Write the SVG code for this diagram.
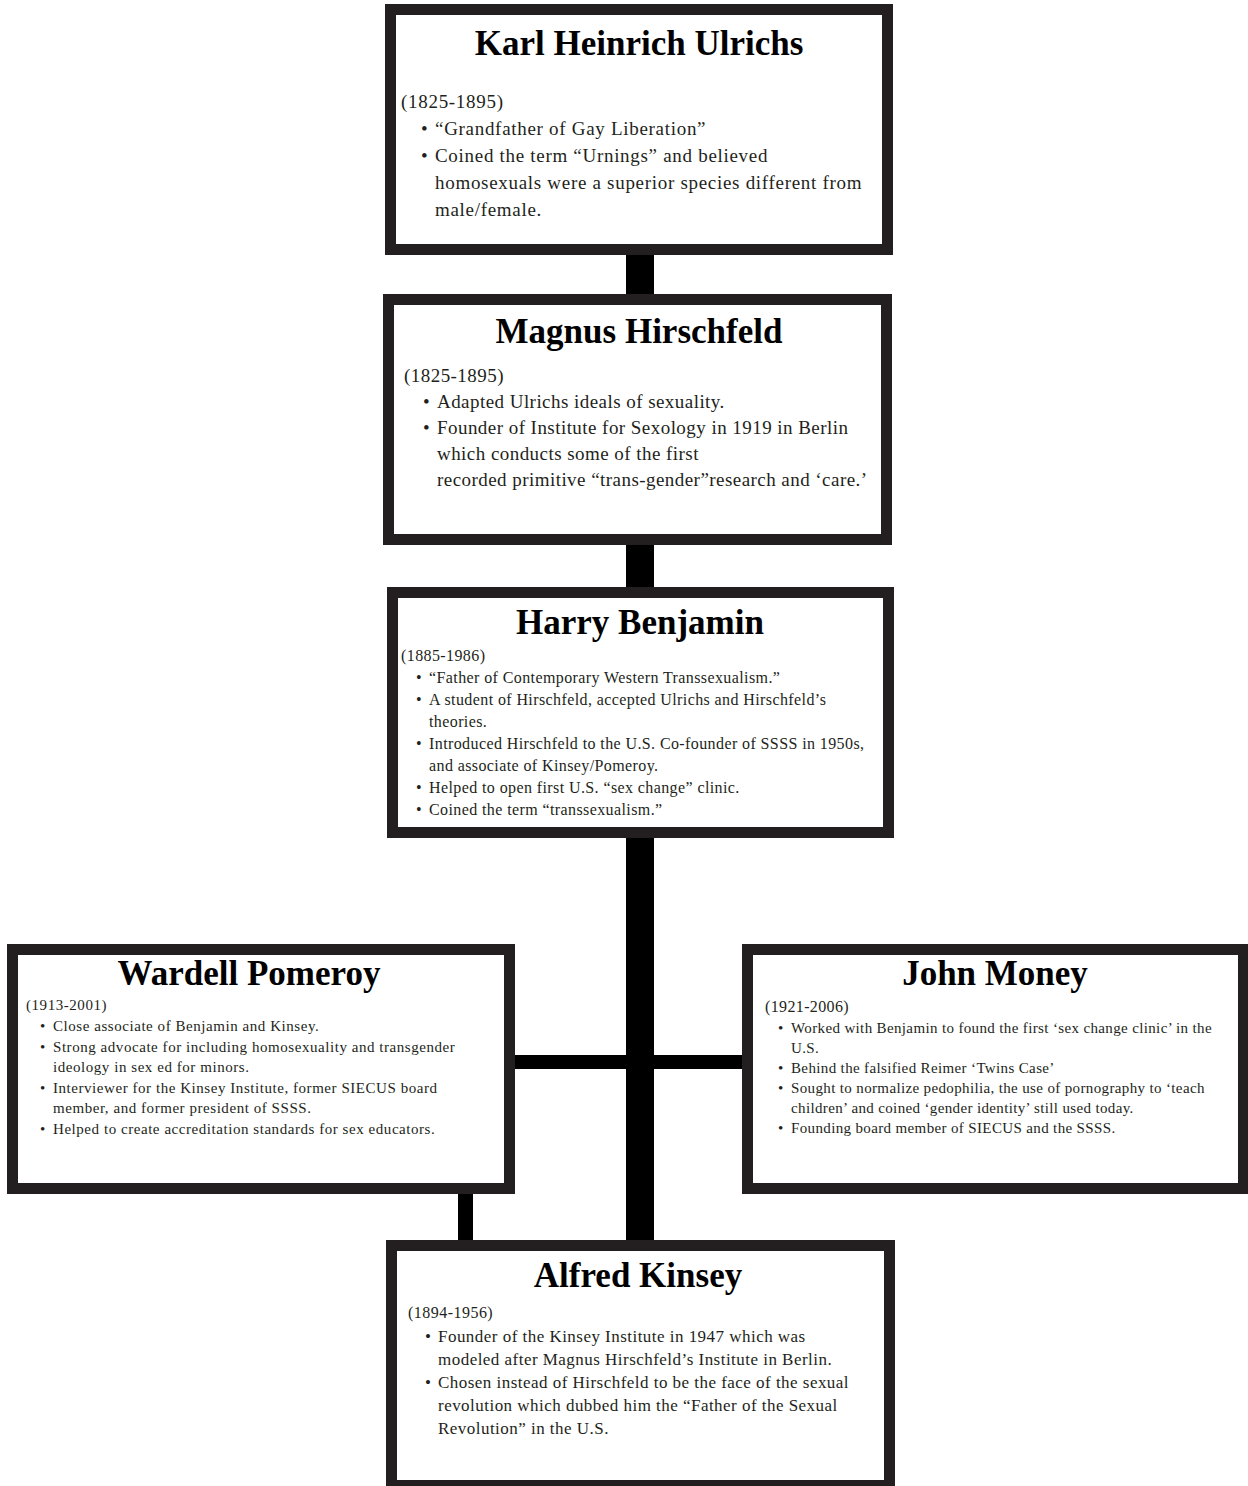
<svg xmlns="http://www.w3.org/2000/svg" width="1248" height="1486" viewBox="0 0 1248 1486">
<style>
.box{fill:#fff;stroke:#231f20;stroke-width:11}
.t{font-family:"Liberation Serif","Times New Roman",serif;font-weight:bold;text-anchor:middle;fill:#000}
.b{font-family:"Liberation Serif","Times New Roman",serif;fill:#231f20}
.l{font-size:19px}
.m{font-size:16px}
.s{font-size:15px}
#ulrichs .b{letter-spacing:0.7px}
#hirschfeld .b{letter-spacing:0.45px}
#benjamin .b{letter-spacing:0.4px}
#pomeroy .b{letter-spacing:0.55px}
#money .b{letter-spacing:0.36px}
#kinsey .b{letter-spacing:0.47px}
</style>
<rect width="1248" height="1486" fill="#fff"/>
<g id="connectors" fill="#000">
<rect x="626" y="253" width="28" height="43"/>
<rect x="626" y="543" width="28" height="46"/>
<rect x="626" y="836" width="28" height="406"/>
<rect x="512" y="1055" width="237" height="14"/>
<rect x="458" y="1192" width="15" height="56"/>
</g>
<g id="ulrichs">
<rect class="box" x="390.5" y="9.5" width="497" height="240"/>
<text class="t" x="639" y="55" font-size="35">Karl Heinrich Ulrichs</text>
<text class="b l" x="401" y="108">(1825-1895)</text>
<text class="b l" x="421" y="135">•</text>
<text class="b l" x="435" y="135">“Grandfather of Gay Liberation”</text>
<text class="b l" x="421" y="162">•</text>
<text class="b l" x="435" y="162">Coined the term “Urnings” and believed</text>
<text class="b l" x="435" y="189">homosexuals were a superior species different from</text>
<text class="b l" x="435" y="216">male/female.</text>
</g>
<g id="hirschfeld">
<rect class="box" x="388.5" y="299.5" width="498" height="240"/>
<text class="t" x="639" y="343" font-size="35">Magnus Hirschfeld</text>
<text class="b l" x="404" y="382">(1825-1895)</text>
<text class="b l" x="423" y="408">•</text>
<text class="b l" x="437" y="408">Adapted Ulrichs ideals of sexuality.</text>
<text class="b l" x="423" y="434">•</text>
<text class="b l" x="437" y="434">Founder of Institute for Sexology in 1919 in Berlin</text>
<text class="b l" x="437" y="460">which conducts some of the first</text>
<text class="b l" x="437" y="486">recorded primitive “trans-gender”research and ‘care.’</text>
</g>
<g id="benjamin">
<rect class="box" x="392.5" y="592.5" width="496" height="240"/>
<text class="t" x="640" y="634" font-size="35">Harry Benjamin</text>
<text class="b m" x="401" y="661">(1885-1986)</text>
<text class="b m" x="416" y="683">•</text>
<text class="b m" x="429" y="683">“Father of Contemporary Western Transsexualism.”</text>
<text class="b m" x="416" y="705">•</text>
<text class="b m" x="429" y="705">A student of Hirschfeld, accepted Ulrichs and Hirschfeld’s</text>
<text class="b m" x="429" y="727">theories.</text>
<text class="b m" x="416" y="749">•</text>
<text class="b m" x="429" y="749">Introduced Hirschfeld to the U.S. Co-founder of SSSS in 1950s,</text>
<text class="b m" x="429" y="771">and associate of Kinsey/Pomeroy.</text>
<text class="b m" x="416" y="793">•</text>
<text class="b m" x="429" y="793">Helped to open first U.S. “sex change” clinic.</text>
<text class="b m" x="416" y="815">•</text>
<text class="b m" x="429" y="815">Coined the term “transsexualism.”</text>
</g>
<g id="pomeroy">
<rect class="box" x="12.5" y="949.5" width="497" height="239"/>
<text class="t" x="249" y="985" font-size="35">Wardell Pomeroy</text>
<text class="b s" x="26" y="1010">(1913-2001)</text>
<text class="b s" x="40" y="1031">•</text>
<text class="b s" x="53" y="1031">Close associate of Benjamin and Kinsey.</text>
<text class="b s" x="40" y="1052">•</text>
<text class="b s" x="53" y="1052">Strong advocate for including homosexuality and transgender</text>
<text class="b s" x="53" y="1072">ideology in sex ed for minors.</text>
<text class="b s" x="40" y="1093">•</text>
<text class="b s" x="53" y="1093">Interviewer for the Kinsey Institute, former SIECUS board</text>
<text class="b s" x="53" y="1113">member, and former president of SSSS.</text>
<text class="b s" x="40" y="1134">•</text>
<text class="b s" x="53" y="1134">Helped to create accreditation standards for sex educators.</text>
</g>
<g id="money">
<rect class="box" x="747.5" y="949.5" width="496" height="239"/>
<text class="t" x="995" y="985" font-size="35">John Money</text>
<text class="b m" x="765" y="1012">(1921-2006)</text>
<text class="b s" x="778" y="1033">•</text>
<text class="b s" x="791" y="1033">Worked with Benjamin to found the first ‘sex change clinic’ in the</text>
<text class="b s" x="791" y="1053">U.S.</text>
<text class="b s" x="778" y="1073">•</text>
<text class="b s" x="791" y="1073">Behind the falsified Reimer ‘Twins Case’</text>
<text class="b s" x="778" y="1093">•</text>
<text class="b s" x="791" y="1093">Sought to normalize pedophilia, the use of pornography to ‘teach</text>
<text class="b s" x="791" y="1113">children’ and coined ‘gender identity’ still used today.</text>
<text class="b s" x="778" y="1133">•</text>
<text class="b s" x="791" y="1133">Founding board member of SIECUS and the SSSS.</text>
</g>
<g id="kinsey">
<rect class="box" x="391.5" y="1245.5" width="498" height="240"/>
<text class="t" x="638" y="1287" font-size="35">Alfred Kinsey</text>
<text class="b m" x="408" y="1318">(1894-1956)</text>
<text class="b" font-size="17" x="425" y="1342">•</text>
<text class="b" font-size="17" x="438" y="1342">Founder of the Kinsey Institute in 1947 which was</text>
<text class="b" font-size="17" x="438" y="1365">modeled after Magnus Hirschfeld’s Institute in Berlin.</text>
<text class="b" font-size="17" x="425" y="1388">•</text>
<text class="b" font-size="17" x="438" y="1388">Chosen instead of Hirschfeld to be the face of the sexual</text>
<text class="b" font-size="17" x="438" y="1411">revolution which dubbed him the “Father of the Sexual</text>
<text class="b" font-size="17" x="438" y="1434">Revolution” in the U.S.</text>
</g>
</svg>
